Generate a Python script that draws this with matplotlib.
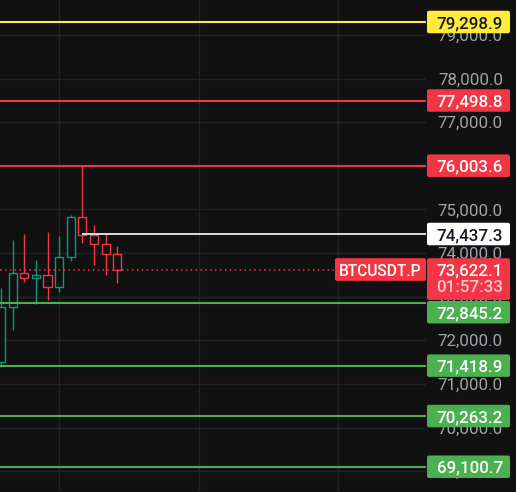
import numpy as np
import matplotlib
matplotlib.use("Agg")
import matplotlib.pyplot as plt
from matplotlib.patches import Rectangle, FancyBboxPatch
from matplotlib.transforms import IdentityTransform

# candles
opens  = [71503, 72757, 73537, 73422, 73491, 73216, 73903, 74821, 74408, 74202, 73972]
highs  = [73206, 74300, 74438, 73842, 74484, 74392, 74873, 76000, 74644, 74431, 74163]
lows   = [71395, 72236, 73344, 72833, 72924, 73115, 73826, 74238, 73727, 73504, 73321]
closes = [72771, 73537, 73422, 73491, 73216, 73903, 74821, 74408, 74202, 73972, 73622.1]

# horizontal levels
level_prices = [79298.9, 77498.8, 76003.6, 74437.3, 72845.2, 71418.9, 70263.2, 69100.7]
level_kinds  = ["yellow", "red", "red", "white", "green", "green", "green", "green"]
white_start = 7  # white level starts at this candle

ticks = [69000, 70000, 71000, 72000, 73000, 74000, 75000, 76000, 77000, 78000, 79000]
symbol = "BTCUSDT.P"
countdown = "01:57:33"
last_price = closes[-1]

bg = "#111111"
up = "#089981"
down = "#F23645"
kind_col = {"yellow": "#FFEB3B", "red": "#F23645", "white": "#FFFFFF", "green": "#4CAF50"}
kind_txt = {"yellow": "#131722", "red": "white", "white": "#131722", "green": "white"}

W, H = 516, 492
fig = plt.figure(figsize=(W / 100, H / 100), dpi=100, facecolor=bg)
ax = fig.add_axes([0, 0, 426 / W, 1])
ax.set_facecolor(bg)
ax.set_xlim(-0.086, 36.54)
ax.set_ylim(68521.5, 79803.4)
for s in ax.spines.values():
    s.set_visible(False)
ax.set_yticks(ticks)
ax.set_xticks([5, 17, 29])
ax.tick_params(length=0, labelleft=False, labelbottom=False)
ax.grid(color="#232323", lw=1)
ax.set_axisbelow(True)

# candles, hollow bodies
bw = 0.7
for i in range(len(opens)):
    o, h, l, c = opens[i], highs[i], lows[i], closes[i]
    col = up if c >= o else down
    ax.vlines(i, l, h, color=col, lw=1.0, zorder=2)
    ax.add_patch(Rectangle((i - bw / 2, min(o, c)), bw, abs(c - o),
                           facecolor=bg, edgecolor=col, lw=1.0, zorder=3))

# level lines
for p, k in zip(level_prices, level_kinds):
    if k == "white":
        ax.hlines(p, white_start, ax.get_xlim()[1], color=kind_col[k], lw=1.2, zorder=4)
    else:
        ax.axhline(p, color=kind_col[k], lw=1.5, zorder=4)

# last price dotted line
ax.hlines(last_price, -0.1, 28.7, color=down, lw=1.1, linestyles=(0, (1, 2.2)), zorder=4)


def ypix(p):
    return ax.transData.transform((0, p))[1]


def fx(x):
    return x / W


def fy(y):
    return y / H


font = "Roboto"
fs = 12.2

# price axis tick labels
for t in ticks:
    y = ypix(t)
    fig.text(fx(503), fy(y - 6), f"{t:,.1f}", ha="right", va="baseline",
             color="#A0A3AB", fontsize=fs, family=font, zorder=1)


def box(x, y, w, h, col, z=5):
    fig.add_artist(FancyBboxPatch((x, y), w, h, boxstyle="round,pad=0,rounding_size=2",
                                  facecolor=col, edgecolor="none",
                                  transform=IdentityTransform(), zorder=z))


# last price label with countdown
yc = ypix(last_price)
c_top, c_bot = yc + 11.3, yc - 30.4
box(427, c_bot, 83, c_top - c_bot, down, z=7)
fig.text(fx(503), fy(yc - 6), f"{last_price:,.1f}", ha="right", va="baseline",
         color="white", fontsize=fs, family=font, weight="medium", zorder=8)
fig.text(fx(503), fy(yc - 22.4), countdown, ha="right", va="baseline",
         color="white", alpha=0.72, fontsize=fs, family=font, weight="medium", zorder=8)

# level labels, pushed off the last price label when they collide
bh = 22.5
for p, k in zip(level_prices, level_kinds):
    y = ypix(p)
    bottom = y - bh / 2
    if bottom < c_top and bottom + bh > c_bot:
        if y < yc:
            bottom = c_bot - 1 - bh
        else:
            bottom = c_top + 1
    box(427, bottom, 83, bh, kind_col[k])
    fig.text(fx(503), fy(bottom + bh / 2 - 6), f"{p:,.1f}", ha="right", va="baseline",
             color=kind_txt[k], fontsize=fs, family=font, weight="medium", zorder=6)

# symbol label
box(335, yc - 11.3, 91, 22.7, down, z=7)
fig.text(fx(380.5), fy(yc - 6), symbol, ha="center", va="baseline",
         color="white", fontsize=11.2, family=font, weight="medium", zorder=8)

fig.savefig("out.png", dpi=100, facecolor=bg)
